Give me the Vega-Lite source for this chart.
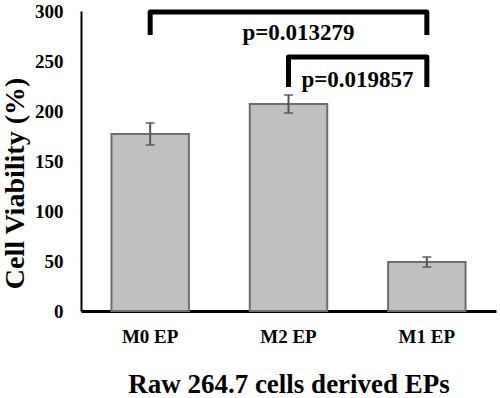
{
  "$schema": "https://vega.github.io/schema/vega-lite/v6.json",
  "autosize": "none",
  "width": 415,
  "height": 300,
  "padding": {"left": 81, "top": 11, "right": 4, "bottom": 87},
  "background": "white",
  "config": {
    "view": {"stroke": null},
    "font": "Liberation Serif"
  },
  "datasets": {
    "bars": [
      {"group": "M0 EP", "value": 177, "err": 11},
      {"group": "M2 EP", "value": 207, "err": 9},
      {"group": "M1 EP", "value": 49, "err": 5}
    ],
    "brackets": [
      {"bracket": "A", "group": "M0 EP", "y": 276, "order": 1},
      {"bracket": "A", "group": "M0 EP", "y": 299, "order": 2},
      {"bracket": "A", "group": "M1 EP", "y": 299, "order": 3},
      {"bracket": "A", "group": "M1 EP", "y": 276, "order": 4},
      {"bracket": "B", "group": "M2 EP", "y": 224, "order": 1},
      {"bracket": "B", "group": "M2 EP", "y": 254, "order": 2},
      {"bracket": "B", "group": "M1 EP", "y": 254, "order": 3},
      {"bracket": "B", "group": "M1 EP", "y": 224, "order": 4}
    ]
  },
  "encoding": {
    "x": {
      "field": "group",
      "type": "nominal",
      "scale": {"domain": ["M0 EP", "M2 EP", "M1 EP"], "paddingInner": 0.44, "paddingOuter": 0.22},
      "axis": {
        "title": "Raw 264.7 cells derived EPs",
        "labelAngle": 0,
        "labelFont": "Liberation Serif",
        "labelFontWeight": "bold",
        "labelFontSize": 19,
        "labelColor": "black",
        "labelPadding": 16,
        "ticks": false,
        "tickSize": 0,
        "domainColor": "black",
        "domainWidth": 3,
        "titleFont": "Liberation Serif",
        "titleFontWeight": "bold",
        "titleFontSize": 27,
        "titleColor": "black",
        "titlePadding": 25
      }
    }
  },
  "layer": [
    {
      "data": {"name": "bars"},
      "mark": {"type": "bar", "fill": "#c0c0c0", "stroke": "#6e6e6e", "strokeWidth": 2},
      "encoding": {
        "y": {
          "field": "value",
          "type": "quantitative",
          "title": "Cell Viability (%)",
          "scale": {"domain": [0, 300], "nice": false},
          "axis": {
            "title": "Cell Viability (%)",
            "values": [0, 50, 100, 150, 200, 250, 300],
            "grid": false,
            "ticks": false,
            "tickSize": 0,
            "labelFont": "Liberation Serif",
            "labelFontWeight": "bold",
            "labelFontSize": 19,
            "labelColor": "black",
            "labelPadding": 18,
            "domainColor": "black",
            "domainWidth": 2,
            "titleFont": "Liberation Serif",
            "titleFontWeight": "bold",
            "titleFontSize": 28,
            "titleColor": "black",
            "titlePadding": 5,
            "titleY": 172
          }
        }
      }
    },
    {
      "data": {"name": "bars"},
      "mark": {"type": "errorbar", "color": "#555555", "thickness": 2, "ticks": {"size": 9, "thickness": 2, "color": "#555555"}},
      "encoding": {
        "y": {"field": "value", "type": "quantitative", "title": "Cell Viability (%)"},
        "yError": {"field": "err"}
      }
    },
    {
      "data": {"name": "brackets"},
      "mark": {"type": "line", "color": "black", "strokeWidth": 5, "strokeJoin": "round", "strokeCap": "butt"},
      "encoding": {
        "y": {"field": "y", "type": "quantitative", "title": "Cell Viability (%)"},
        "detail": {"field": "bracket"},
        "order": {"field": "order", "type": "quantitative"}
      }
    },
    {
      "data": {"values": [{"group": "M2 EP", "y": 278, "label": "p=0.013279"}]},
      "mark": {"type": "text", "font": "Liberation Serif", "fontWeight": "bold", "fontSize": 23, "color": "black", "baseline": "middle", "dx": 10},
      "encoding": {
        "y": {"field": "y", "type": "quantitative", "title": "Cell Viability (%)"},
        "text": {"field": "label"}
      }
    },
    {
      "data": {"values": [{"group": "M2 EP", "y": 231, "label": "p=0.019857"}]},
      "mark": {"type": "text", "font": "Liberation Serif", "fontWeight": "bold", "fontSize": 23, "color": "black", "baseline": "middle", "dx": 69},
      "encoding": {
        "y": {"field": "y", "type": "quantitative", "title": "Cell Viability (%)"},
        "text": {"field": "label"}
      }
    }
  ]
}
